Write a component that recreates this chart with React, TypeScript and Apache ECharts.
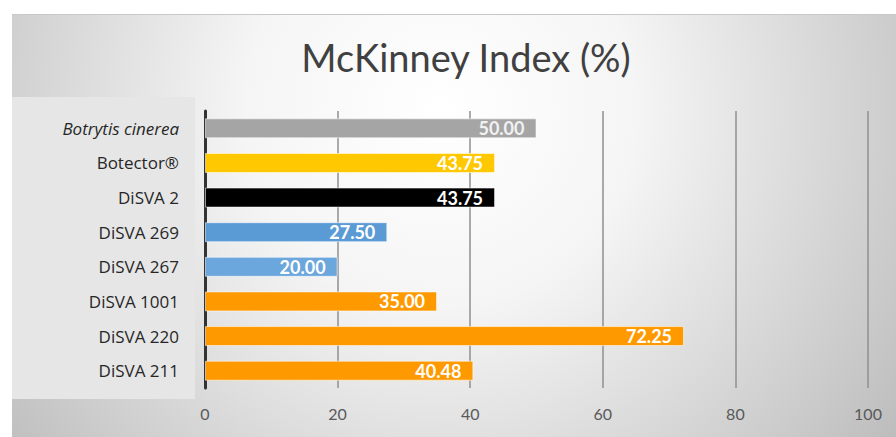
import React, { useEffect, useRef } from "react";
import * as echarts from "echarts";

const categories = ["Botrytis cinerea", "Botector®", "DiSVA 2", "DiSVA 269", "DiSVA 267", "DiSVA 1001", "DiSVA 220", "DiSVA 211"];
const values = [50.0, 43.75, 43.75, 27.5, 20.0, 35.0, 72.25, 40.48];
const barColors = ["#a5a5a5", "#ffc800", "#000000", "#5b9bd5", "#6ba6dc", "#ff9900", "#ff9900", "#ff9900"];
const labelColors = ["#f2f2f2", "#ffffff", "#ffffff", "#ffffff", "#ffffff", "#ffffff", "#ffffff", "#ffffff"];
const xTicks = [0, 20, 40, 60, 80, 100];

export default function App() {
  const ref = useRef<HTMLDivElement>(null);
  useEffect(() => {
    const chart = echarts.init(ref.current!, undefined, { renderer: "svg" });
    const font = "Lato, 'Open Sans', sans-serif";
    const catFont = "'Open Sans', Lato, sans-serif";
    chart.setOption({
      animation: false,
      textStyle: { fontFamily: font },
      title: {
        text: "McKinney Index (%)",
        left: 461,
        textAlign: "center",
        top: 33,
        textStyle: { fontFamily: font, fontSize: 38, fontWeight: "normal", color: "#404040" },
      },
      graphic: [
        {
          type: "rect",
          z: -10,
          silent: true,
          shape: { x: 12, y: 14, width: 884, height: 423 },
          style: {
            fill: new echarts.graphic.RadialGradient(440, 110, 560, [
              { offset: 0, color: "#ffffff" },
              { offset: 0.35, color: "#f5f5f5" },
              { offset: 1, color: "#bdbdbd" },
            ], true),
          },
        },
        {
          type: "line",
          z: -9,
          silent: true,
          shape: { x1: 12, y1: 14.5, x2: 896, y2: 14.5 },
          style: { stroke: "#c8c8c8", lineWidth: 1 },
        },
        {
          type: "rect",
          z: -9,
          silent: true,
          shape: { x: 12, y: 97, width: 183, height: 302 },
          style: { fill: "#e6e6e6" },
        },
      ],
      grid: { left: 205, right: 28, top: 111, bottom: 49, containLabel: false },
      xAxis: {
        type: "value",
        min: 0,
        max: 100,
        interval: 20,
        axisLine: { show: false },
        axisTick: { show: false },
        splitLine: { show: true, lineStyle: { color: "#8f8f8f", width: 1.5 } },
        axisLabel: {
          color: "#595959",
          fontSize: 16,
          margin: 17,
          formatter: (v: number) => (xTicks.includes(v) ? String(v) : ""),
        },
      },
      yAxis: {
        type: "category",
        data: categories,
        inverse: true,
        axisTick: { show: false },
        axisLine: { show: true, lineStyle: { color: "#333333", width: 3 } },
        axisLabel: {
          color: "#262626",
          fontSize: 17,
          fontFamily: catFont,
          margin: 26,
          formatter: (v: string) => (v === "Botrytis cinerea" ? "{it|" + v + "}" : v),
          rich: { it: { fontStyle: "italic", fontSize: 17, color: "#262626", fontFamily: catFont } },
        },
      },
      series: [
        {
          type: "bar",
          barWidth: 20,
          data: values.map((v, i) => ({
            value: v,
            itemStyle: { color: barColors[i], borderColor: "rgba(255,255,255,0.55)", borderWidth: 1 },
            label: { color: labelColors[i] },
          })),
          label: {
            show: true,
            position: "insideRight",
            distance: 12,
            fontSize: 18,
            fontWeight: "bold",
            fontFamily: font,
            formatter: (p: any) => Number(p.value).toFixed(2),
          },
        },
      ],
    });
    return () => chart.dispose();
  }, []);
  return <div ref={ref} style={{ position: "absolute", left: 0, top: 0, width: 896, height: 437 }} />;
}
